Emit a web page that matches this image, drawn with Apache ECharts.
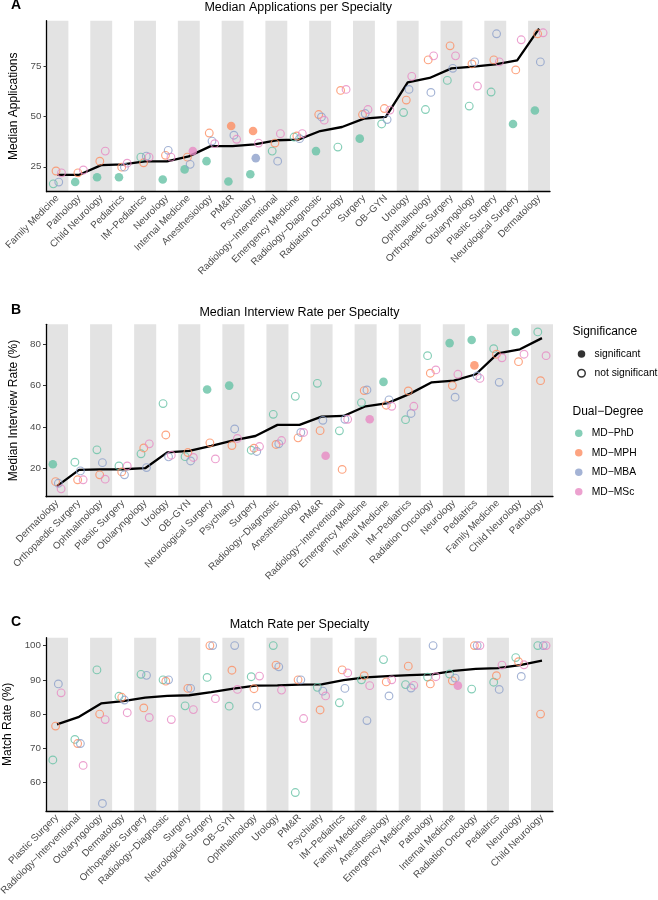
<!DOCTYPE html>
<html>
<head>
<meta charset="utf-8">
<script src="https://cdn.jsdelivr.net/npm/echarts@6/dist/echarts.min.js"></script>
<style>
html, body { margin: 0; padding: 0; background: #fff; }
#chart { width: 658px; height: 900px; }
</style>
</head>
<body>
<div id="chart"></div>
<script>
const M = '\u2212'   // R draws hyphens as minus signs

// ---- Panel A: median applications ----
const catsA = ['Family Medicine', 'Pathology', 'Child Neurology', 'Pediatrics', 'IM' + M + 'Pediatrics', 'Neurology',
  'Internal Medicine', 'Anesthesiology', 'PM&R', 'Psychiatry', 'Radiology' + M + 'Interventional', 'Emergency Medicine',
  'Radiology' + M + 'Diagnostic', 'Radiation Oncology', 'Surgery', 'OB' + M + 'GYN', 'Urology', 'Ophthalmology',
  'Orthopaedic Surgery', 'Otolaryngology', 'Plastic Surgery', 'Neurological Surgery', 'Dermatology']
const medianA = [21, 21, 25.8, 26.2, 27.7, 27.7, 30.2, 35.3, 35.3, 36.2, 38.2, 38.5, 42.8, 44.8, 49, 49.8, 67, 69.2, 74, 74.8, 76, 78, 93.8]
const phdA = [16.5, 17.4, 19.8, 19.8, 29.8, 18.7, 23.7, 27.8, 17.7, 21.3, 32.8, 39.8, 32.8, 34.8, 39, 46.3, 52, 53.5, 68, 55.2, 62.2, 46.3, 53]
const mphA = [22.9, 22, 27.8, 24.8, 27, 30.7, 29.8, 41.8, 45.3, 42.8, 36.8, 40.3, 51, 63, 51, 54, 58.2, 78.2, 85.2, 76.2, 78.2, 73.2, 91.2]
const mbaA = [17.4, null, null, 24.8, 30.3, 33.2, 26.2, 37.8, 40.7, 29.3, 27.8, 39, 49.8, null, 51.5, 48.5, 63.5, 62, 74, 77.2, 91.2, null, 77.2]
const mscA = [22, 23.4, 32.8, 26.8, 29.8, 29.8, 32.8, 36.5, 38.7, 36.8, 41.5, 41.5, 48.2, 63.5, 53.5, 53.2, 70, 80.2, 80.2, 65.2, 77.2, 88.2, 91.7]
const sigA_phd = ['Pathology', 'Child Neurology', 'Pediatrics', 'Neurology', 'Internal Medicine', 'Anesthesiology', 'PM&R',
  'Psychiatry', 'Radiology' + M + 'Diagnostic', 'Surgery', 'Neurological Surgery', 'Dermatology']
const sigA_mph = ['PM&R', 'Psychiatry']
const sigA_mba = ['Psychiatry']
const sigA_msc = ['Internal Medicine']
const ticksA = [25, 50, 75]

// ---- Panel B: median interview rate ----
const catsB = ['Dermatology', 'Orthopaedic Surgery', 'Ophthalmology', 'Plastic Surgery', 'Otolaryngology', 'Urology',
  'OB' + M + 'GYN', 'Neurological Surgery', 'Psychiatry', 'Surgery', 'Radiology' + M + 'Diagnostic', 'Anesthesiology', 'PM&R',
  'Radiology' + M + 'Interventional', 'Emergency Medicine', 'Internal Medicine', 'IM' + M + 'Pediatrics', 'Radiation Oncology',
  'Neurology', 'Pediatrics', 'Family Medicine', 'Child Neurology', 'Pathology']
const medianB = [11.3, 19.2, 19.4, 19.5, 20, 27.7, 28.4, 30.8, 33.5, 35.6, 41, 41, 45, 45.3, 50, 51.5, 56, 61.6, 62.4, 65.5, 75.6, 77.6, 83]
const phdB = [21.9, 22.9, 28.9, 21.1, 27, 51.3, 25.6, 58.1, 60, 28.7, 46.1, 54.8, 61.1, 38.1, 51.8, 61.8, 43.5, 74.5, 80.6, 82.1, 77.9, 86, 86]
const mphB = [13.5, 14.4, 16.8, 18.2, 29.8, 36.1, 27.6, 32.3, 31, 29.7, 31.5, 34.7, 38.2, 19.4, 57.6, 50.5, 57.4, 66, 60, 69.8, 75.2, 71.6, 62.4]
const mbaB = [12.7, 18.7, 22.7, 16.8, 20.3, 25.5, 23.5, null, 39, 28.1, 31.8, 37.3, 43.2, 43.7, 57.9, 53.1, 46.5, null, 54.4, 64.7, 61.6, null, null]
const mscB = [10, 14.4, 14.7, 21.1, 31.8, 26.3, 25.2, 24.5, 34.4, 30.5, 33.4, 37.3, 26, 43.7, 43.7, 50, 50, 67.6, 65.5, 63.5, 73.5, 75.2, 74.5]
const sigB_phd = ['Dermatology', 'Neurological Surgery', 'Psychiatry', 'Internal Medicine', 'Neurology', 'Pediatrics', 'Child Neurology']
const sigB_mph = ['Pediatrics']
const sigB_mba = []
const sigB_msc = ['PM&R', 'Emergency Medicine']
const ticksB = [20, 40, 60, 80]

// ---- Panel C: match rate ----
const catsC = ['Plastic Surgery', 'Radiology' + M + 'Interventional', 'Otolaryngology', 'Dermatology', 'Orthopaedic Surgery',
  'Radiology' + M + 'Diagnostic', 'Surgery', 'Neurological Surgery', 'OB' + M + 'GYN', 'Ophthalmology', 'Urology', 'PM&R',
  'Psychiatry', 'IM' + M + 'Pediatrics', 'Family Medicine', 'Anesthesiology', 'Emergency Medicine', 'Pathology',
  'Internal Medicine', 'Radiation Oncology', 'Pediatrics', 'Neurology', 'Child Neurology']
const medianC = [77, 79.2, 83.1, 83.8, 84.8, 85.3, 85.5, 86.4, 87.4, 88.3, 88.4, 88.6, 88.7, 89.9, 90.7, 91.1, 91.4, 91.6, 92.6, 93.2, 93.4, 94.3, 95.6]
const phdC = [66.6, 72.6, 92.9, 85.2, 91.6, 90, 82.4, 90.7, 82.3, 90.9, 100, 57.1, 87.8, 83.3, 90, 95.9, 88.6, 90.8, 91.7, 87.3, 89.3, 96.5, 100]
const mphC = [76.5, 71.4, 80, 84.9, 81.8, 89.6, 87.5, 100, 92.8, 87.4, 94.3, 90, 81.2, 92.9, 91.2, 89.4, 94, 88.8, 89.7, 100, 91.2, 95.3, 80]
const mbaC = [88.8, 71.4, 53.9, 84.1, 91.3, 90, 87.5, 100, 100, 82.3, 93.8, 90, 86.7, 87.5, 78.1, 85.3, 87.6, 100, 90.5, 100, 87.2, 91, 100]
const mscC = [86.2, 65, 78.4, 80.4, 79, 78.4, 81.3, 84.5, 87.2, 91.1, 87, 78.7, 85.3, 92, 88.3, 90, 88.4, 90.9, 88.3, 100, 94.3, 94.4, 100]
const sigC_phd = []
const sigC_mph = []
const sigC_mba = []
const sigC_msc = ['Internal Medicine']
const ticksC = [60, 70, 80, 90, 100]

const degrees = ['MD' + M + 'PhD', 'MD' + M + 'MPH', 'MD' + M + 'MBA', 'MD' + M + 'MSc']
const colors = ['#66C2A5', '#FC8D62', '#8DA0CB', '#E78AC3']
const dodge = [-0.19, -0.065, 0.06, 0.185]   // position_dodge inside a category

const panels = [
  { letter: 'A', title: 'Median Applications per Specialty', yName: 'Median Applications',
    cats: catsA, median: medianA, vals: [phdA, mphA, mbaA, mscA], sig: [sigA_phd, sigA_mph, sigA_mba, sigA_msc],
    ticks: ticksA, yMin: 12.6, yMax: 97.7, grid: { left: 46.5, top: 20.7, width: 503.5, height: 171 },
    titleTop: 1.5, nameGap: 20 },
  { letter: 'B', title: 'Median Interview Rate per Specialty', yName: 'Median Interview Rate (%)',
    cats: catsB, median: medianB, vals: [phdB, mphB, mbaB, mscB], sig: [sigB_phd, sigB_mph, sigB_mba, sigB_msc],
    ticks: ticksB, yMin: 6.2, yMax: 89.7, grid: { left: 46, top: 324.3, width: 507, height: 172.4 },
    titleTop: 306.5, nameGap: 21 },
  { letter: 'C', title: 'Match Rate per Specialty', yName: 'Match Rate (%)',
    cats: catsC, median: medianC, vals: [phdC, mphC, mbaC, mscC], sig: [sigC_phd, sigC_mph, sigC_mba, sigC_msc],
    ticks: ticksC, yMin: 51.7, yMax: 102.3, grid: { left: 46, top: 637.7, width: 507, height: 173.3 },
    titleTop: 618.5, nameGap: 27 }
]

const legendText = { fontSize: 10.3, color: '#000', lineHeight: 14 }
const option = {
  animation: false,
  backgroundColor: '#fff',
  textStyle: { fontFamily: 'Liberation Sans, Arial, sans-serif' },
  title: [], grid: [], xAxis: [], yAxis: [], series: [],
  legend: [
    { data: ['significant', { name: 'not significant', itemStyle: { color: '#fff', borderColor: '#000', borderWidth: 1.5 } }],
      orient: 'vertical', left: 577, top: 347, itemWidth: 16, itemHeight: 7.5, itemGap: 5.3, icon: 'circle',
      selectedMode: false, padding: 0, textStyle: legendText },
    { data: degrees.map((d, j) => ({ name: d, itemStyle: { color: colors[j], borderWidth: 0 } })),
      orient: 'vertical', left: 575, top: 426.3, itemWidth: 16, itemHeight: 7.5, itemGap: 5.5, icon: 'circle',
      selectedMode: false, padding: 0, textStyle: legendText }
  ]
}

option.title.push({ text: 'Significance', left: 572.5, top: 326, padding: 0,
  textStyle: { fontSize: 12, fontWeight: 'normal', color: '#000' } })
option.title.push({ text: 'Dual' + M + 'Degree', left: 572.5, top: 406, padding: 0,
  textStyle: { fontSize: 12, fontWeight: 'normal', color: '#000' } })

panels.forEach((p, k) => {
  const cx = p.grid.left + p.grid.width / 2
  option.title.push({ text: p.letter, left: 11, top: p.titleTop - 3, padding: 0,
    textStyle: { fontSize: 14, fontWeight: 'bold', color: '#000' } })
  option.title.push({ text: p.title, left: cx, textAlign: 'center', top: p.titleTop, padding: 0,
    textStyle: { fontSize: 12.5, fontWeight: 'normal', color: '#000' } })

  option.grid.push(Object.assign({ outerBoundsMode: 'none', containLabel: false }, p.grid))

  // visible category axis: labels, ticks, grey bands
  option.xAxis.push({
    type: 'category', gridIndex: k, data: p.cats, boundaryGap: true,
    axisLine: { onZero: false, lineStyle: { color: '#000', width: 1.3 } },
    axisTick: { alignWithLabel: true, length: 3, lineStyle: { color: '#333', width: 1 } },
    axisLabel: { interval: 0, rotate: 45, fontSize: 9.8, color: '#4D4D4D', margin: 5 },
    splitLine: { show: false },
    splitArea: { show: true, areaStyle: { color: ['#E3E3E3', 'rgba(255,255,255,0)'] } }
  })
  // hidden numeric twin used to dodge the points
  option.xAxis.push({ type: 'value', gridIndex: k, min: -0.5, max: p.cats.length - 0.5, show: false })

  option.yAxis.push({
    type: 'value', gridIndex: k, min: p.yMin, max: p.yMax,
    name: p.yName, nameLocation: 'middle', nameGap: p.nameGap,
    nameTextStyle: { fontSize: 12, color: '#000' },
    axisLine: { show: true, onZero: false, lineStyle: { color: '#000', width: 1.3 } },
    axisTick: { show: true, length: 3, customValues: p.ticks, lineStyle: { color: '#333' } },
    axisLabel: { customValues: p.ticks, fontSize: 9.8, color: '#4D4D4D', margin: 5 },
    splitLine: { show: false }
  })

  option.series.push({
    type: 'line', xAxisIndex: 2 * k + 1, yAxisIndex: k, silent: true, z: 3,
    data: p.median.map((v, i) => [i, v]), symbol: 'none',
    lineStyle: { color: '#000', width: 2.3 }
  })

  degrees.forEach((d, j) => {
    const data = []
    p.vals[j].forEach((v, i) => {
      if (v == null) return
      const filled = p.sig[j].includes(p.cats[i])
      data.push({
        value: [i + dodge[j], v],
        symbolSize: filled ? 8.6 : 7.7,
        itemStyle: filled
          ? { color: colors[j], borderWidth: 0 }
          : { color: 'rgba(255,255,255,0)', borderColor: colors[j], borderWidth: 1.15 }
      })
    })
    option.series.push({
      name: d, type: 'scatter', xAxisIndex: 2 * k + 1, yAxisIndex: k, z: 4,
      symbol: 'circle', itemStyle: { color: colors[j] }, data
    })
  })
})

// empty series that only feed the significance legend
option.series.push({ name: 'significant', type: 'scatter', xAxisIndex: 1, yAxisIndex: 0, data: [], itemStyle: { color: '#000' } })
option.series.push({ name: 'not significant', type: 'scatter', xAxisIndex: 1, yAxisIndex: 0, data: [],
  itemStyle: { color: '#fff', borderColor: '#000', borderWidth: 1.5 } })

const chart = echarts.init(document.getElementById('chart'), null, { renderer: 'canvas' })
chart.setOption(option)
</script>
</body>
</html>
